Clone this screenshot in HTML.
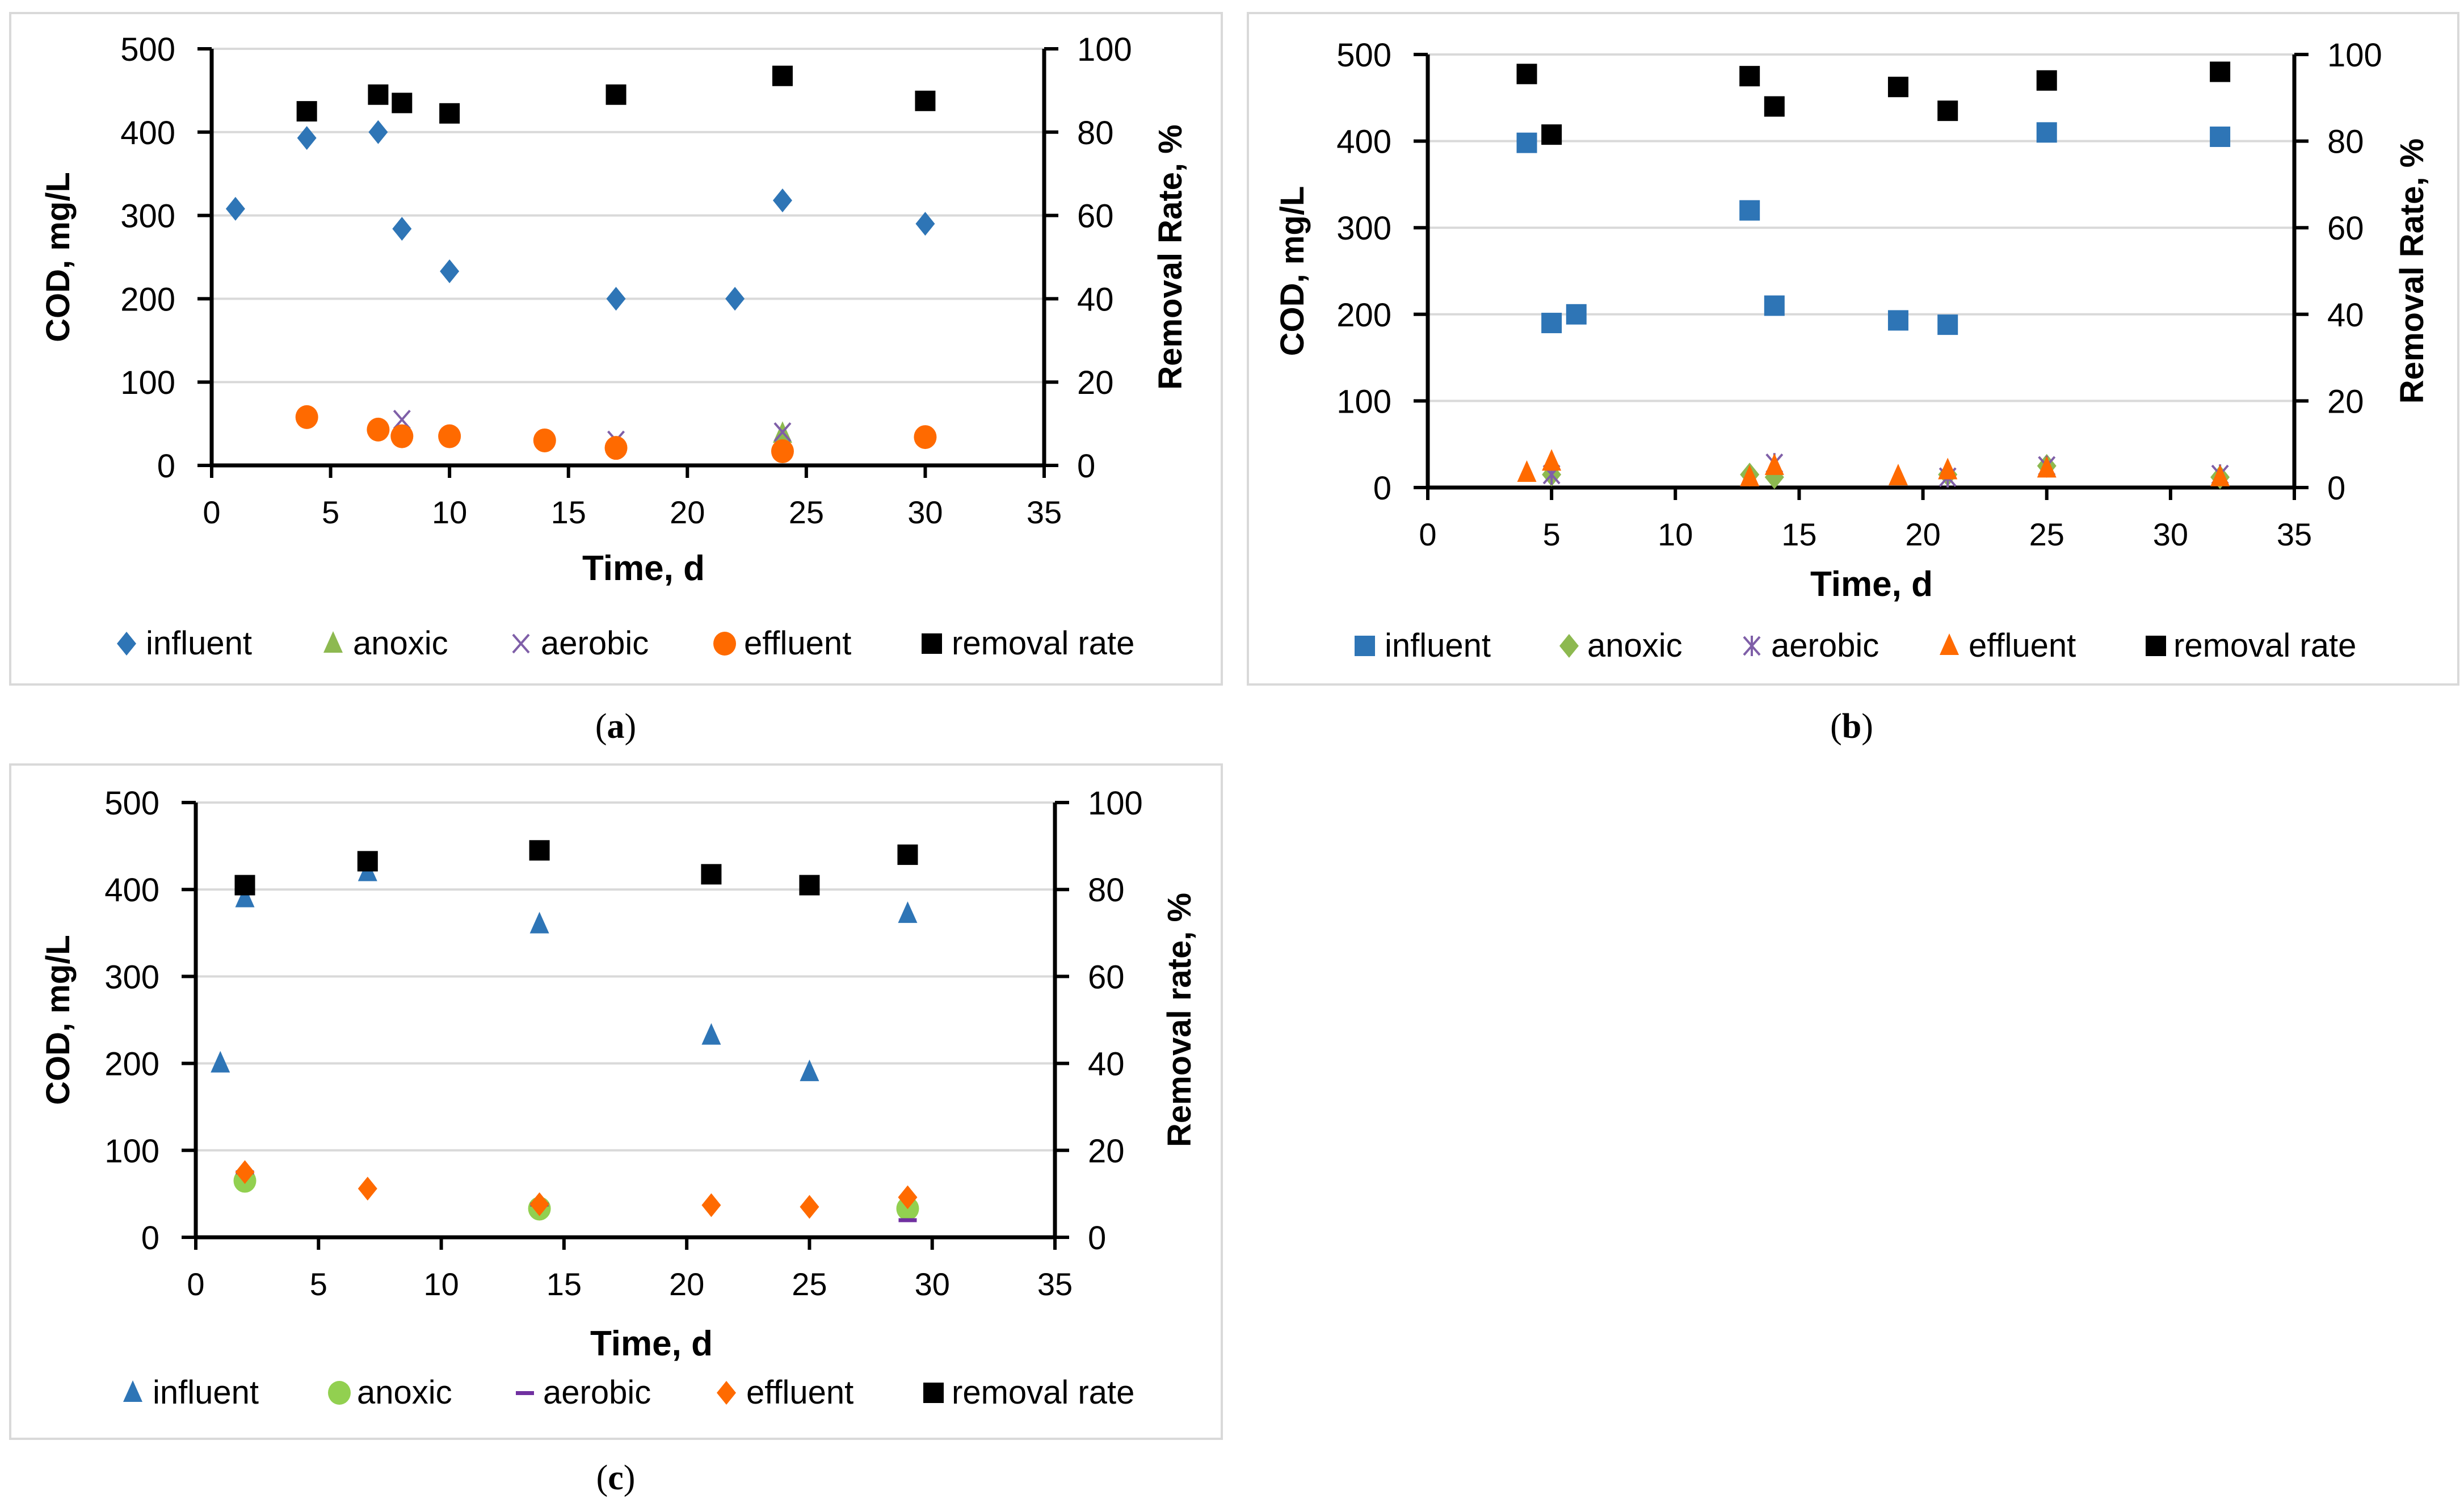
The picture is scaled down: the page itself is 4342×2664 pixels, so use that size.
<!DOCTYPE html>
<html><head><meta charset="utf-8"><style>
html,body{margin:0;padding:0;background:#fff;}
svg text{font-family:"Liberation Sans Narrow","Liberation Sans",sans-serif;}
svg text.tick{font-family:"Liberation Sans",sans-serif;}
</style></head><body>
<svg id="fig" xmlns="http://www.w3.org/2000/svg" width="4342" height="2659" viewBox="0 0 4342 2659"></svg>
<script>
// ---- Panel (a) data ----
const aInfX=[1,4,7,8,10,17,22,24,30];
const aInfY=[308,393,400,284,233,200,200,318,290];
const aAnoX=[24];
const aAnoY=[38];
const aAerX=[8,17,24];
const aAerY=[55,30,40];
const aEffX=[4,7,8,10,14,17,24,30];
const aEffY=[58,43,35,35,30,21,17,34];
const aRemX=[4,7,8,10,17,24,30];
const aRemY=[85,89,87,84.5,89,93.5,87.5];
// ---- Panel (b) data ----
const bInfX=[4,5,6,13,14,19,21,25,32];
const bInfY=[398,190,200,320,210,193,188,410,405];
const bAnoX=[5,13,14,21,25,32];
const bAnoY=[15,15,12,15,25,12];
const bAerX=[5,14,21,25,32];
const bAerY=[15,28,12,25,15];
const bEffX=[4,5,13,14,19,21,25,32];
const bEffY=[17,30,12,25,13,20,22,12];
const bRemX=[4,5,13,14,19,21,25,32];
const bRemY=[95.5,81.5,95,88,92.5,87,94,96];
// ---- Panel (c) data ----
const cInfX=[1,2,7,14,21,25,29];
const cInfY=[200,390,420,360,232,190,372];
const cAnoX=[2,14,29];
const cAnoY=[65,33,33];
const cAerX=[2,14,29];
const cAerY=[75,38,20];
const cEffX=[2,7,14,21,25,29];
const cEffY=[75,56,38,37,35,46];
const cRemX=[2,7,14,21,25,29];
const cRemY=[81,86.5,89,83.5,81,88];
// ---- axis ticks ----
const xTicks=[0,5,10,15,20,25,30,35];
const yTicks=[0,100,200,300,400,500];
const y2Ticks=[0,20,40,60,80,100];

const NS="http://www.w3.org/2000/svg";
const svg=document.getElementById('fig');
function mk(tag,attrs,parent){const e=document.createElementNS(NS,tag);for(const k in attrs)e.setAttribute(k,attrs[k]);(parent||svg).appendChild(e);return e;}
function txt(s,attrs,parent){const e=mk('text',attrs,parent);e.textContent=s;return e;}

const BLUE="#2E75B6",ORANGE="#FF6A00",PURPLE="#7F5FA8",GREEN="#8DB950";

function marker(g,type,cx,cy,color){
  let e;const s=18;
  if(type==='square'){e=mk('rect',{x:cx-s,y:cy-s,width:2*s,height:2*s,fill:color},g);}
  else if(type==='diamond'){e=mk('polygon',{points:`${cx},${cy-21} ${cx+17},${cy} ${cx},${cy+21} ${cx-17},${cy}`,fill:color},g);}
  else if(type==='circle'){e=mk('ellipse',{cx:cx,cy:cy,rx:20,ry:21,fill:color},g);}
  else if(type==='triangle'){e=mk('polygon',{points:`${cx},${cy-22} ${cx+17},${cy+16} ${cx-17},${cy+16}`,fill:color},g);}
  else if(type==='x'){e=mk('path',{d:`M${cx-14},${cy-16}L${cx+14},${cy+16}M${cx+14},${cy-16}L${cx-14},${cy+16}`,stroke:color,'stroke-width':4,fill:'none'},g);}
  else if(type==='star'){e=mk('path',{d:`M${cx-14},${cy-16}L${cx+14},${cy+16}M${cx+14},${cy-16}L${cx-14},${cy+16}M${cx},${cy-18}L${cx},${cy+18}`,stroke:color,'stroke-width':4,fill:'none'},g);}
  else if(type==='dash'){e=mk('rect',{x:cx-16,y:cy-3,width:32,height:7,fill:color},g);}
  return e;
}

function panel(p){
  const g=mk('g',{});
  
  
  const fr=mk('rect',{x:p.fx,y:p.fy,width:p.fw,height:p.fh,fill:'#fff',stroke:'#D9D9D9','stroke-width':4},g);
  
  
  const X=v=>p.x0+(p.x1-p.x0)*v/35;
  const Y=v=>p.y0+(p.y1-p.y0)*v/500;
  const Y2=v=>p.y0+(p.y1-p.y0)*v/100;
  yTicks.forEach(t=>{if(t===0)return;const l=mk('line',{x1:p.x0,x2:p.x1,y1:Y(t),y2:Y(t),stroke:'#D9D9D9','stroke-width':4},g);
    
    });
  const ax=mk('path',{d:`M${p.x0},${p.y1}L${p.x0},${p.y0+3}M${p.x0-3},${p.y0}L${p.x1+3},${p.y0}M${p.x1},${p.y0}L${p.x1},${p.y1}`,stroke:'#000','stroke-width':7,fill:'none'},g);
  
  
  xTicks.forEach(t=>{mk('line',{x1:X(t),x2:X(t),y1:p.y0,y2:p.y0+22,stroke:'#000','stroke-width':6},g);
    const l=txt(String(t),{x:X(t),y:p.y0+102,'font-size':56,'text-anchor':'middle',fill:'#000'},g);
    
    });
  yTicks.forEach(t=>{mk('line',{x1:p.x0-25,x2:p.x0,y1:Y(t),y2:Y(t),stroke:'#000','stroke-width':6},g);
    const l=txt(String(t),{class:'tick',x:p.x0-64,y:Y(t)+21,'font-size':58,'text-anchor':'end',fill:'#000'},g);
    
    });
  y2Ticks.forEach(t=>{mk('line',{x1:p.x1,x2:p.x1+25,y1:Y2(t),y2:Y2(t),stroke:'#000','stroke-width':6},g);
    const l=txt(String(t),{class:'tick',x:p.x1+58,y:Y2(t)+21,'font-size':58,'text-anchor':'start',fill:'#000'},g);
    
    });
  const xt=txt('Time, d',{x:p.xtx,y:p.xty,'font-size':62,'font-weight':'bold','text-anchor':'middle'},g);
  
  
  const yt=txt('COD, mg/L',{x:0,y:0,'font-size':58,'font-weight':'bold','text-anchor':'middle',transform:`translate(${p.ytx},${(p.y0+p.y1)/2}) rotate(-90)`,style:'font-family:"Liberation Sans",sans-serif'},g);
  
  
  const y2t=txt(p.y2title,{x:0,y:0,'font-size':58,'font-weight':'bold','text-anchor':'middle',transform:`translate(${p.y2tx},${(p.y0+p.y1)/2}) rotate(-90)`,style:'font-family:"Liberation Sans",sans-serif'},g);
  
  
  p.series.forEach(s=>{
    const sg=mk('g',{},g);
    
    
    s.xs.forEach((xv,i)=>{
      const cy=s.right?Y2(s.ys[i]):Y(s.ys[i]);
      const m=marker(sg,s.type,X(xv),cy,s.color);
      
      
    });
  });
  p.series.forEach((s,i)=>{
    const lg=mk('g',{},g);
    
    
    marker(lg,s.type,p.legM[i],p.legY,s.color);
    txt(s.label,{x:p.legT[i],y:p.legY+19,'font-size':58},lg);
  });
  const cap=txt('',{x:p.capx,y:p.capy,'font-size':62,'text-anchor':'middle',style:'font-family:"Liberation Serif",serif'},g);
  cap.innerHTML='(<tspan font-weight="bold">'+p.cap+'</tspan>)';
  
  
}

panel({name:'panel-a',fx:18,fy:23,fw:2135,fh:1183,x0:373,x1:1840,y0:820,y1:86,
  xtx:1134,xty:1022,ytx:122,y2tx:2082,y2title:'Removal Rate, %',
  legY:1134,legM:[223,587,918,1277,1642],legT:[257,622,953,1311,1677],
  cap:'a',capx:1085,capy:1300,
  series:[
   {label:'influent',type:'diamond',color:BLUE,xs:aInfX,ys:aInfY},
   {label:'anoxic',type:'triangle',color:GREEN,xs:aAnoX,ys:aAnoY},
   {label:'aerobic',type:'x',color:PURPLE,xs:aAerX,ys:aAerY},
   {label:'effluent',type:'circle',color:ORANGE,xs:aEffX,ys:aEffY},
   {label:'removal rate',type:'square',color:'#000',xs:aRemX,ys:aRemY,right:true}]});

panel({name:'panel-b',fx:2199,fy:23,fw:2133,fh:1183,x0:2516,x1:4043,y0:859,y1:96,
  xtx:3298,xty:1050,ytx:2297,y2tx:4270,y2title:'Removal Rate, %',
  legY:1138,legM:[2405,2765,3087,3435,3799],legT:[2440,2797,3121,3469,3830],
  cap:'b',capx:3263,capy:1300,
  series:[
   {label:'influent',type:'square',color:BLUE,xs:bInfX,ys:bInfY},
   {label:'anoxic',type:'diamond',color:GREEN,xs:bAnoX,ys:bAnoY},
   {label:'aerobic',type:'star',color:PURPLE,xs:bAerX,ys:bAerY},
   {label:'effluent',type:'triangle',color:ORANGE,xs:bEffX,ys:bEffY},
   {label:'removal rate',type:'square',color:'#000',xs:bRemX,ys:bRemY,right:true}]});

panel({name:'panel-c',fx:18,fy:1347,fw:2135,fh:1188,x0:345,x1:1859,y0:2180,y1:1414,
  xtx:1148,xty:2388,ytx:122,y2tx:2098,y2title:'Removal rate, %',
  legY:2454,legM:[234,598,925,1280,1645],legT:[269,629,957,1315,1677],
  cap:'c',capx:1085,capy:2624,
  series:[
   {label:'influent',type:'triangle',color:BLUE,xs:cInfX,ys:cInfY},
   {label:'anoxic',type:'circle',color:'#92D050',xs:cAnoX,ys:cAnoY},
   {label:'aerobic',type:'dash',color:'#7030A0',xs:cAerX,ys:cAerY},
   {label:'effluent',type:'diamond',color:ORANGE,xs:cEffX,ys:cEffY},
   {label:'removal rate',type:'square',color:'#000',xs:cRemX,ys:cRemY,right:true}]});
</script>
</body></html>
